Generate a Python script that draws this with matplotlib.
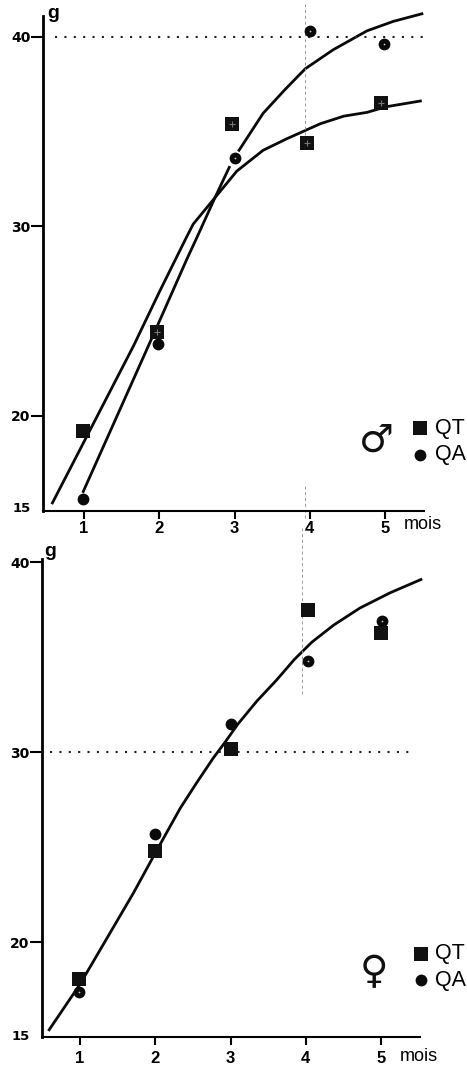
"""
Croissance pondérale QT / QA, mâles et femelles
"""

import matplotlib
matplotlib.use('Agg')
import matplotlib.pyplot as plt
from matplotlib.transforms import ScaledTranslation

plt.rcParams['font.family'] = ['Liberation Sans', 'DejaVu Sans']

W, H = 467, 1065

# Panneau du haut (mâles)
mois = [1, 2, 3, 4, 5]
male_qt_x = [0.98, 1.97, 2.97, 3.96, 4.95]
male_qt_y = [19.2, 24.4, 35.4, 34.4, 36.5]
male_qa_x = [0.98, 1.98, 3.0, 4.0, 4.98]
male_qa_y = [15.6, 23.8, 33.6, 40.3, 39.6]

courbe_qt_x = [0.58, 1.66, 2.01, 2.36, 2.45, 2.74, 3.03, 3.38, 3.69, 4.14, 4.45, 4.76, 5.02, 5.47]
courbe_qt_y = [15.4, 23.7, 26.6, 29.4, 30.1, 31.5, 32.9, 34.0, 34.6, 35.4, 35.8, 36.0, 36.3, 36.6]
courbe_qa1_x = [0.99, 1.97, 2.36, 2.50, 2.74, 2.93]
courbe_qa1_y = [16.0, 24.7, 28.2, 29.4, 31.5, 33.1]
courbe_qa2_x = [3.06, 3.38, 3.67, 3.94, 4.31, 4.76, 5.11, 5.49]
courbe_qa2_y = [34.0, 35.95, 37.2, 38.3, 39.3, 40.3, 40.8, 41.2]

# Panneau du bas (femelles)
fem_qt_x = [0.99, 2.0, 3.0, 4.03, 5.0]
fem_qt_y = [18.1, 24.8, 30.2, 37.5, 36.3]
fem_qa_x = [0.99, 2.0, 3.0, 4.03, 5.01]
fem_qa_y = [17.4, 25.7, 31.5, 34.8, 36.9]

courbe_fem_x = [0.59, 1.0, 1.71, 2.0, 2.33, 2.55, 2.77, 2.93, 3.10, 3.35, 3.61, 3.85, 4.08, 4.37, 4.72, 5.12, 5.53]
courbe_fem_y = [15.4, 17.8, 22.6, 24.7, 27.05, 28.4, 29.7, 30.55, 31.5, 32.7, 33.8, 34.9, 35.8, 36.7, 37.6, 38.4, 39.1]

y_ticks = [15, 20, 30, 40]
y_labels = ['15', '20', '30', '40']

# Points de l'original dont l'impression est tachée de blanc
male_qt_taches = [1, 2, 3, 4]
male_qa_taches = [2, 3, 4]
fem_qt_taches = []
fem_qa_taches = [0, 3, 4]


def creer_axe(fig, gauche, droite, haut, bas, xlim, ylim, pad_x, decal_15):
    ax = fig.add_axes([gauche / W, 1 - bas / H, (droite - gauche) / W, (bas - haut) / H])
    ax.set_xlim(*xlim)
    ax.set_ylim(*ylim)
    ax.spines['top'].set_visible(False)
    ax.spines['right'].set_visible(False)
    ax.spines['left'].set_linewidth(2.0)
    ax.spines['bottom'].set_linewidth(1.5)
    ax.patch.set_alpha(0)

    ax.set_xticks(mois)
    ax.set_xticklabels([str(m) for m in mois], fontweight='bold', fontsize=12)
    ax.tick_params(axis='x', length=5.5, width=1.5, pad=pad_x)

    ax.set_yticks(y_ticks)
    ax.set_yticklabels(y_labels, family='DejaVu Sans', fontweight='bold', fontsize=10)
    ax.tick_params(axis='y', length=8.5, width=1.5, pad=0.5)
    ax.yaxis.get_major_ticks()[0].tick1line.set_visible(False)
    lab15 = ax.get_yticklabels()[0]
    lab15.set_fontsize(9.5)
    lab15.set_transform(lab15.get_transform() + ScaledTranslation(0, decal_15 / 100, fig.dpi_scale_trans))
    return ax


def points(ax, qt_x, qt_y, qa_x, qa_y, qt_taches, qa_taches):
    ax.plot(qa_x, qa_y, 'o', color='#0a0a0a', ms=8.5, mew=0, clip_on=False, zorder=4)
    ax.plot(qt_x, qt_y, 's', color='#111111', ms=9.4, mew=0, clip_on=False, zorder=5)
    ax.plot([qa_x[i] for i in qa_taches], [qa_y[i] for i in qa_taches], '.',
            color='#cccccc', ms=2.5, mew=0, clip_on=False, zorder=6)
    ax.plot([qt_x[i] for i in qt_taches], [qt_y[i] for i in qt_taches], '+',
            color='#777777', ms=5, mew=0.8, clip_on=False, zorder=6)


def legende(ax, x, y_qt, y_qa, x_txt, symbole, x_sym, y_sym):
    ax.plot([x], [y_qt], 's', color='#111111', ms=9.4, mew=0, clip_on=False)
    ax.plot([x], [y_qa], 'o', color='#0a0a0a', ms=8.5, mew=0, clip_on=False)
    ax.text(x_txt, y_qt, 'QT', fontsize=15.5, va='center', ha='left', color='#000000')
    ax.text(x_txt, y_qa, 'QA', fontsize=15.5, va='center', ha='left', color='#000000')
    ax.text(x_sym, y_sym, symbole, family='DejaVu Sans', fontweight='bold', fontsize=28,
            va='center', ha='center', color='#111111')


fig = plt.figure(figsize=(W / 100, H / 100), dpi=100)
fig.patch.set_facecolor('white')

# Haut
ax1 = creer_axe(fig, 43, 424, 15.5, 510.5, (0.455, 5.518), (15, 41.11), 2, 4)
ax1.plot(courbe_qt_x, courbe_qt_y, color='#0a0a0a', lw=2, solid_joinstyle='round', clip_on=False)
ax1.plot(courbe_qa1_x, courbe_qa1_y, color='#0a0a0a', lw=2, solid_joinstyle='round')
ax1.plot(courbe_qa2_x, courbe_qa2_y, color='#0a0a0a', lw=2, solid_joinstyle='round', clip_on=False)
ax1.plot([0.62, 5.5], [40, 40], color='#222222', lw=1.5, linestyle=(0, (1, 3.5)))
ax1.plot([3.94, 3.94], [34.8, 41.7], color='#999999', lw=0.7, linestyle=(0, (3, 3)), clip_on=False)
ax1.plot([3.93, 3.93], [14.6, 16.3], color='#999999', lw=0.7, linestyle=(0, (3, 3)), clip_on=False)
points(ax1, male_qt_x, male_qt_y, male_qa_x, male_qa_y, male_qt_taches, male_qa_taches)
legende(ax1, 5.47, 19.35, 17.93, 5.66, '♂', 4.89, 18.7)
ax1.text(0.59, 41.2, 'g', fontsize=14, fontweight='bold', va='center', ha='center')
ax1.text(5.25, 14.24, 'mois', fontsize=13, va='center', ha='left')

# Bas
ax2 = creer_axe(fig, 42, 420, 559, 1037.4, (0.495, 5.518), (15, 40.18), 4.5, 2)
ax2.plot(courbe_fem_x, courbe_fem_y, color='#0a0a0a', lw=2, solid_joinstyle='round', clip_on=False)
ax2.plot([0.6, 5.43], [30, 30], color='#222222', lw=1.5, linestyle=(0, (1, 3.5)))
ax2.plot([3.946, 3.946], [33.1, 41.8], color='#999999', lw=0.7, linestyle=(0, (3, 3)), clip_on=False)
points(ax2, fem_qt_x, fem_qt_y, fem_qa_x, fem_qa_y, fem_qt_taches, fem_qa_taches)
legende(ax2, 5.53, 19.4, 18.0, 5.72, '♀', 4.91, 18.46)
ax2.text(0.6, 40.6, 'g', fontsize=14, fontweight='bold', va='center', ha='center')
ax2.text(5.25, 14.0, 'mois', fontsize=13, va='center', ha='left')

plt.savefig('out.png', dpi=100)
plt.close()
